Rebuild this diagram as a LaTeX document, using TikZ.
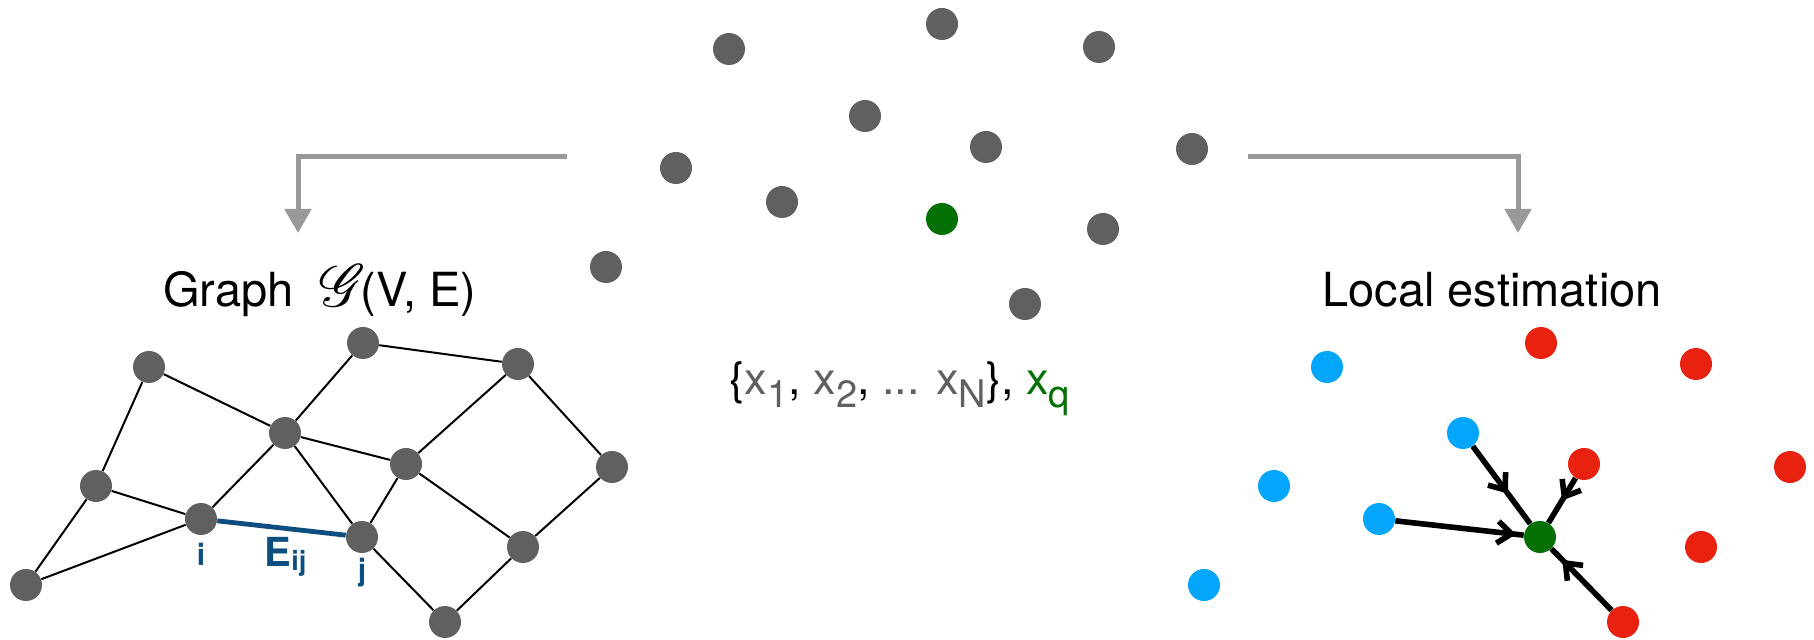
\documentclass[tikz,border=0pt]{standalone}
\usepackage{fontspec}
\setmainfont{TeX Gyre Heros}
\usepackage{mathrsfs}
\usetikzlibrary{arrows.meta, positioning, decorations.markings}

\definecolor{ptgray}{RGB}{96,96,96}
\definecolor{ptgreen}{RGB}{5,112,5}
\definecolor{ptblue}{RGB}{3,166,250}
\definecolor{ptred}{RGB}{232,34,14}
\definecolor{edgeblue}{RGB}{13,78,128}
\definecolor{flowgray}{RGB}{153,153,153}

\newcommand{\lowsub}[1]{\raisebox{-6.5pt}{\fontsize{19pt}{19pt}\selectfont #1}}

\begin{document}
\begin{tikzpicture}[
    x=0.5pt, y=-0.5pt,
    point/.style={circle, fill=#1, minimum size=16pt, inner sep=0pt},
    point/.default=ptgray,
    edge/.style={line width=1pt},
    eij/.style={line width=2.4pt, draw=edgeblue},
    lbl/.style={font=\bfseries\fontsize{15pt}{15pt}\selectfont, text=edgeblue, inner sep=0pt},
    flow/.style={line width=2.5pt, draw=flowgray, -{Triangle[length=12pt, width=13pt]}},
    knn/.style={line width=2.8pt, postaction={decorate},
        decoration={markings, mark=at position #1 with {\arrow{Straight Barb[length=7pt, width=11pt]}}}},
    title/.style={font=\fontsize{23.5pt}{27pt}\selectfont, anchor=base}
]
    \useasboundingbox (0,0) rectangle (1814,640);

    % point cloud
    \node[point] (c1) at (729,49) {};
    \node[point] (c2) at (942,24) {};
    \node[point] (c3) at (1099,47) {};
    \node[point] (c4) at (865,116) {};
    \node[point] (c5) at (986,147) {};
    \node[point] (c6) at (1192,149) {};
    \node[point] (c7) at (676,168) {};
    \node[point] (c8) at (782,202) {};
    \node[point=ptgreen] (cq) at (942,219) {};
    \node[point] (c9) at (1103,229) {};
    \node[point] (c10) at (606,267) {};
    \node[point] (c11) at (1025,304) {};

    \node[title, font=\fontsize{22.5pt}{26pt}\selectfont] (set) at (900,395) {\{{\color{ptgray}x\lowsub{1}}, {\color{ptgray}x\lowsub{2}}, {\color{ptgray}...} {\color{ptgray}x\lowsub{N}}\}, {\color{ptgreen}x\lowsub{q}}};

    % branches
    \coordinate (lf_start) at (567,157);
    \coordinate (lf_end) at (298,233);
    \coordinate (rf_start) at (1248,157);
    \coordinate (rf_end) at (1518,233);
    \draw[flow] (lf_start) -| (lf_end);
    \draw[flow] (rf_start) -| (rf_end);

    % graph
    \node[title] (g_title) at (320,307) {Graph\hspace{0.55em}\scalebox{1.2}{$\mathscr{G}$}\hspace{-0.12em}(V, E)};
    \node[point] (v1) at (149,367) {};
    \node[point] (v2) at (363,343) {};
    \node[point] (v3) at (518,364) {};
    \node[point] (v4) at (285,433) {};
    \node[point] (v5) at (406,464) {};
    \node[point] (v6) at (612,467) {};
    \node[point] (v7) at (96,486) {};
    \node[point] (v8) at (201,519) {};
    \node[point] (v9) at (362,537) {};
    \node[point] (v10) at (523,547) {};
    \node[point] (v11) at (26,585) {};
    \node[point] (v12) at (445,622) {};

    \draw[edge] (v1) -- (v4) (v1) -- (v7) (v2) -- (v4) (v2) -- (v3)
        (v3) -- (v5) (v3) -- (v6) (v4) -- (v5) (v4) -- (v8) (v4) -- (v9)
        (v5) -- (v9) (v5) -- (v10) (v6) -- (v10) (v7) -- (v8) (v7) -- (v11)
        (v8) -- (v11) (v9) -- (v12) (v10) -- (v12);
    \draw[eij] (v8) -- node[midway, below=3.5pt, xshift=2pt, inner sep=0pt, text=edgeblue, font=\bfseries] (lbl_e)
        {{\fontsize{20pt}{20pt}\selectfont E}\raisebox{-2pt}{\fontsize{13.5pt}{13.5pt}\selectfont ij}} (v9);
    \node[lbl, below=3.5pt of v8] (lbl_i) {i};
    \node[lbl, below=2pt of v9] (lbl_j) {j};

    % local estimation
    \node[title] (loc_title) at (1492,307) {Local estimation};
    \node[point=ptblue] (b1) at (1327,367) {};
    \node[point=ptred] (r1) at (1541,343) {};
    \node[point=ptred] (r2) at (1696,364) {};
    \node[point=ptblue] (b2) at (1463,433) {};
    \node[point=ptred] (r3) at (1584,464) {};
    \node[point=ptred] (r4) at (1790,467) {};
    \node[point=ptblue] (b3) at (1274,486) {};
    \node[point=ptblue] (b4) at (1379,519) {};
    \node[point=ptgreen] (q) at (1540,537) {};
    \node[point=ptred] (r5) at (1701,547) {};
    \node[point=ptblue] (b5) at (1204,585) {};
    \node[point=ptred] (r6) at (1623,622) {};

    \draw[knn=0.94] (b4) -- (q);
    \draw[knn=0.61] (b2) -- (q);
    \draw[knn=0.5] (r3) -- (q);
    \draw[knn=0.82] (r6) -- (q);
\end{tikzpicture}
\end{document}
